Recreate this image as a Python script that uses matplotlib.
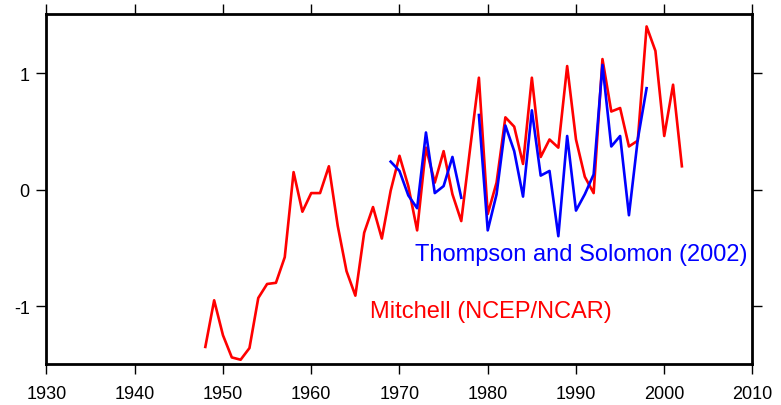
import matplotlib.pyplot as plt
import numpy as np

plt.rcParams['font.family'] = ['Liberation Sans', 'DejaVu Sans']

# Mitchell (NCEP/NCAR) index, 1948-2002
mitchell_years = np.arange(1948, 2003)
mitchell_vals = [-1.35, -0.95, -1.25, -1.44, -1.46, -1.36, -0.93, -0.81, -0.80, -0.58,
                 0.15, -0.19, -0.03, -0.03, 0.20, -0.31, -0.70, -0.91, -0.37, -0.15,
                 -0.42, -0.01, 0.29, 0.03, -0.35, 0.36, 0.06, 0.33, -0.04, -0.27,
                 0.35, 0.96, -0.21, 0.06, 0.62, 0.54, 0.22, 0.96, 0.28, 0.43,
                 0.36, 1.06, 0.43, 0.11, -0.03, 1.12, 0.67, 0.70, 0.37, 0.42,
                 1.40, 1.19, 0.46, 0.90, 0.20]

# Thompson and Solomon (2002), 1969-1998 with 1978 missing
ts_years = np.arange(1969, 1999)
ts_vals = [0.24, 0.16, -0.05, -0.16, 0.49, -0.03, 0.03, 0.28, -0.07, np.nan,
           0.64, -0.35, -0.04, 0.55, 0.33, -0.06, 0.68, 0.12, 0.16, -0.40,
           0.46, -0.18, -0.04, 0.13, 1.07, 0.37, 0.46, -0.22, 0.43, 0.87]

fig = plt.figure(figsize=(7.81, 4.06), dpi=100)
ax = fig.add_axes([0.0595, 0.1, 0.904, 0.864])

ax.plot(mitchell_years, mitchell_vals, color='red', lw=1.9)
ax.plot(ts_years, ts_vals, color='blue', lw=1.9)

ax.text(1990.6, -0.606, 'Thompson and Solomon (2002)', color='blue',
        fontsize=17, ha='center', va='baseline')
ax.text(1980.4, -1.094, 'Mitchell (NCEP/NCAR)', color='red',
        fontsize=17, ha='center', va='baseline')

ax.set_xlim(1930, 2010)
ax.set_ylim(-1.5, 1.51)
ax.set_xticks(np.arange(1930, 2011, 10))
ax.set_yticks([-1, 0, 1])
ax.set_yticklabels(['-1', '0', '1'])

for s in ax.spines.values():
    s.set_linewidth(2)
ax.tick_params(direction='out', length=7, width=1, labelsize=13,
               top=True, right=True)
ax.tick_params(axis='x', pad=8)
ax.tick_params(axis='y', pad=5)

fig.savefig('out.png', dpi=100)
